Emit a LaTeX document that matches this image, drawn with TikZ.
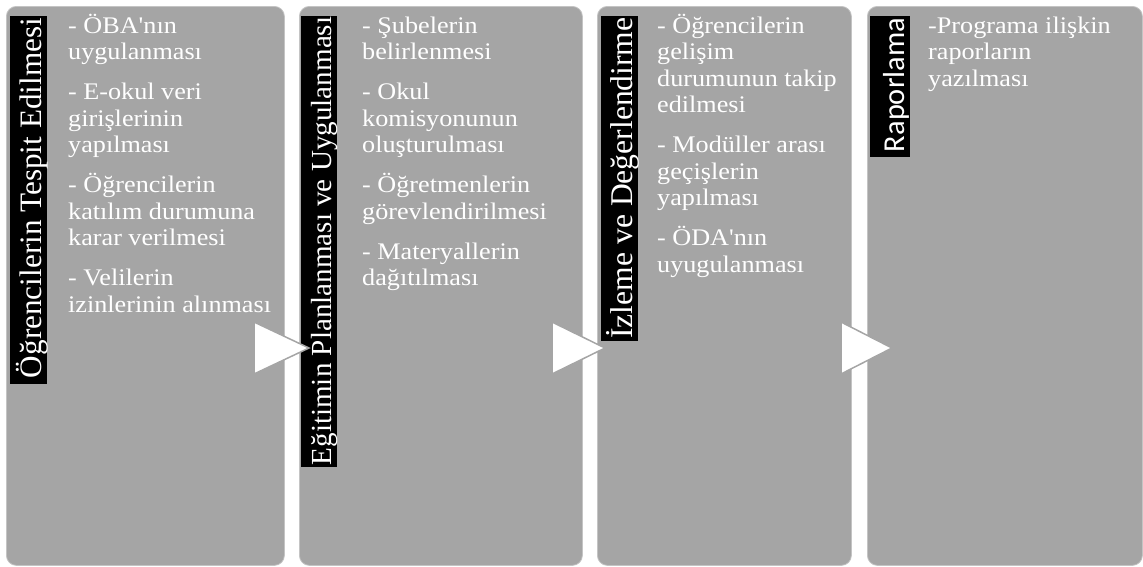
\documentclass[tikz,border=0pt]{standalone}
\usepackage{fontspec}
\newfontfamily\bodyf[FakeStretch=1.1,Ligatures=TeXOff]{Liberation Serif}
\newfontfamily\titlef[Ligatures=TeXOff]{Liberation Serif}
\newfontfamily\titlesf{Carlito}
\definecolor{panelgray}{HTML}{A5A5A5}
\definecolor{paneledge}{HTML}{C4C4C4}
\begin{document}
\begin{tikzpicture}[x=1pt,y=-1pt,
  panel/.style={fill=panelgray, draw=paneledge, line width=0.8pt, rounded corners=10pt, anchor=north west, inner sep=0pt},
  bar/.style={fill=black, anchor=north west, inner sep=0pt},
  titletext/.style={text=white, rotate=90, anchor=base, inner sep=0pt},
  bodytext/.style={text=white, anchor=north west, align=left, inner sep=0pt, font=\bodyf\fontsize{23.8}{26.5}\selectfont},
  arrowtri/.style={fill=white, draw=panelgray, line width=1.5pt, line join=miter}]
\useasboundingbox (0,0) rectangle (1143,566);
% panels
\node[panel, minimum width=278pt, minimum height=559pt] (p1) at (6,6) {};
\node[panel, minimum width=283pt, minimum height=559pt] (p2) at (299,6) {};
\node[panel, minimum width=254pt, minimum height=559pt] (p3) at (597,6) {};
\node[panel, minimum width=275pt, minimum height=559pt] (p4) at (867,6) {};
% title bars
\node[bar, minimum width=37pt, minimum height=368pt] (b1) at (10,16) {};
\node[bar, minimum width=36pt, minimum height=451pt] (b2) at (301,16) {};
\node[bar, minimum width=37pt, minimum height=325pt] (b3) at (601,16) {};
\node[bar, minimum width=40pt, minimum height=141pt] (b4) at (870,16) {};
\node[titletext, font=\titlef\fontsize{31.2}{32}\selectfont] (t1) at (41,198) {Öğrencilerin Tespit Edilmesi};
\node[titletext, font=\titlef\fontsize{29.1}{30}\selectfont] (t2) at (331,241) {Eğitimin Planlanması ve Uygulanması};
\node[titletext, font=\titlef\fontsize{31.6}{32}\selectfont] (t3) at (632,178) {İzleme ve Değerlendirme};
\node[titletext, font=\titlesf\fontsize{30.4}{31}\selectfont] (t4) at (904,85) {Raporlama};
% arrows
\path[arrowtri] (254,322) -- (254,374) -- (309,348) -- cycle;
\path[arrowtri] (552,322) -- (552,374) -- (605,348) -- cycle;
\path[arrowtri] (841,322) -- (841,374) -- (892,348) -- cycle;
% body texts
\node[bodytext] (x1) at (68,9) {\rule{0pt}{24pt}- ÖBA'nın\\ uygulanması\\[13.5pt] - E-okul veri\\ girişlerinin\\ yapılması\\[13.5pt] - Öğrencilerin\\ katılım durumuna\\ karar verilmesi\\[13.5pt] - Velilerin\\ izinlerinin alınması};
\node[bodytext] (x2) at (362,9) {\rule{0pt}{24pt}- Şubelerin\\ belirlenmesi\\[13.5pt] - Okul\\ komisyonunun\\ oluşturulması\\[13.5pt] - Öğretmenlerin\\ görevlendirilmesi\\[13.5pt] - Materyallerin\\ dağıtılması};
\node[bodytext] (x3) at (657,9) {\rule{0pt}{24pt}- Öğrencilerin\\ gelişim\\ durumunun takip\\ edilmesi\\[13.5pt] - Modüller arası\\ geçişlerin\\ yapılması\\[13.5pt] - ÖDA'nın\\ uyugulanması};
\node[bodytext] (x4) at (928,9) {\rule{0pt}{24pt}-Programa ilişkin\\ raporların\\ yazılması};
\end{tikzpicture}
\end{document}
